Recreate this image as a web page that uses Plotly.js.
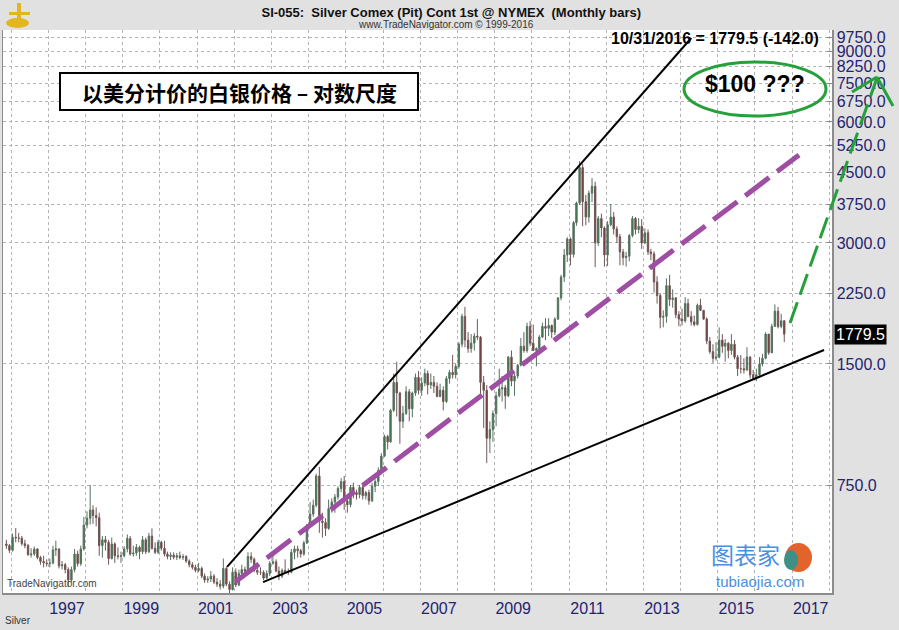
<!DOCTYPE html>
<html>
<head>
<meta charset="utf-8">
<script src="https://cdn.plot.ly/plotly-3.0.1.min.js"></script>
<style>html,body{margin:0;padding:0;background:#e1e1e1;}#chart{width:899px;height:630px;}</style>
</head>
<body>
<div id="chart"></div>
<script>
// Monthly bars, Nov 1995 .. Oct 2016 (price in US cents per ounce)
const startYear = 1995, startMonth = 11;
const open = [
  535, 530,
  516, 556, 554, 553, 536, 530, 503, 505, 520, 495, 484, 480,
  478, 480, 517, 520, 472, 475, 462, 435, 462, 505, 478, 520,
  596, 620, 650, 630, 622, 530, 548, 540, 492, 535, 500, 498,
  500, 520, 552, 505, 508, 525, 512, 548, 512, 560, 522, 510,
  540, 522, 505, 498, 502, 496, 500, 495, 498, 485, 475, 468,
  460, 465, 445, 435, 438, 445, 430, 425, 420, 465, 425, 412,
  455, 423, 452, 462, 458, 498, 490, 460, 455, 455, 440, 452,
  479, 483, 458, 445, 460, 455, 455, 510, 520, 515, 505, 538,
  596, 635, 668, 790, 610, 605, 585, 655, 680, 700, 735, 765,
  684, 670, 740, 718, 710, 740, 705, 718, 685, 745, 765, 815,
  885, 990, 960, 1150, 1350, 1270, 1080, 1130, 1280, 1160, 1270, 1390,
  1290, 1345, 1420, 1330, 1350, 1320, 1245, 1290, 1210, 1380, 1430, 1410,
  1480, 1680, 1970, 1720, 1640, 1690, 1760, 1750, 1350, 1290, 980, 1030,
  1130, 1250, 1300, 1310, 1250, 1560, 1360, 1400, 1490, 1660, 1620, 1860,
  1690, 1620, 1640, 1750, 1860, 1840, 1870, 1800, 1940, 2190, 2470, 2800,
  3070, 2810, 3370, 3770, 4620, 3800, 3480, 3990, 4150, 3000, 3450, 3270,
  2800, 3330, 3480, 3250, 3110, 2850, 2760, 2780, 3130, 3450, 3240, 3300,
  3000, 3180, 2850, 2820, 2400, 2220, 1960, 1970, 2350, 2170, 2190, 1990,
  1940, 1920, 2120, 1970, 1910, 1880, 2100, 2040, 1940, 1710, 1610, 1550,
  1560, 1720, 1660, 1690, 1620, 1680, 1560, 1460, 1460, 1450, 1560, 1410,
  1380, 1410, 1500, 1550, 1780, 1600, 1860, 2030, 1860, 1921.5
];
const high = [
  548, 535,
  568, 586, 570, 560, 548, 535, 522, 527, 522, 500, 500, 490,
  492, 530, 545, 522, 485, 480, 468, 470, 520, 515, 530, 625,
  645, 750, 668, 660, 640, 560, 560, 548, 555, 540, 525, 512,
  528, 565, 560, 530, 535, 530, 560, 555, 570, 585, 540, 548,
  545, 545, 512, 510, 510, 508, 512, 505, 502, 490, 482, 475,
  480, 470, 452, 445, 458, 450, 440, 435, 492, 470, 432, 468,
  465, 462, 475, 470, 510, 510, 495, 468, 468, 460, 460, 485,
  500, 490, 470, 465, 490, 465, 520, 530, 530, 520, 545, 600,
  680, 690, 800, 832, 640, 620, 690, 695, 712, 745, 780, 790,
  700, 750, 760, 730, 750, 755, 725, 730, 760, 775, 830, 900,
  1000, 1000, 1160, 1420, 1520, 1280, 1180, 1320, 1300, 1280, 1420, 1440,
  1390, 1460, 1445, 1420, 1400, 1350, 1340, 1320, 1400, 1450, 1580, 1500,
  1700, 2000, 2080, 1800, 1780, 1790, 1940, 1760, 1400, 1330, 1080, 1150,
  1280, 1460, 1400, 1330, 1570, 1620, 1420, 1500, 1740, 1800, 1900, 1920,
  1880, 1650, 1770, 1900, 1950, 1950, 1880, 1960, 2200, 2500, 2900, 3100,
  3100, 3400, 3800, 4790, 4720, 3950, 4050, 4350, 4260, 3500, 3550, 3300,
  3400, 3750, 3580, 3300, 3160, 2900, 2850, 3160, 3500, 3480, 3460, 3440,
  3260, 3240, 2900, 2860, 2480, 2250, 2040, 2450, 2500, 2300, 2200, 2030,
  2060, 2200, 2180, 2030, 1980, 2120, 2180, 2040, 1960, 1750, 1680, 1700,
  1850, 1780, 1730, 1700, 1780, 1720, 1580, 1580, 1550, 1650, 1570, 1450,
  1460, 1560, 1590, 1800, 1780, 1890, 2110, 2080, 2000, 1930
];
const low = [
  520, 508,
  512, 540, 540, 530, 522, 500, 495, 500, 490, 475, 468, 470,
  468, 476, 500, 465, 462, 452, 418, 430, 455, 470, 472, 515,
  585, 598, 600, 592, 500, 495, 515, 475, 490, 480, 490, 480,
  495, 510, 500, 498, 500, 490, 505, 505, 508, 518, 505, 505,
  515, 498, 490, 488, 490, 488, 490, 488, 480, 468, 462, 455,
  455, 440, 428, 428, 430, 425, 418, 412, 415, 420, 403, 410,
  418, 420, 448, 450, 455, 480, 455, 448, 448, 435, 438, 445,
  475, 455, 435, 440, 455, 448, 452, 490, 495, 495, 500, 535,
  590, 625, 660, 570, 555, 560, 580, 640, 640, 690, 720, 650,
  640, 660, 695, 690, 695, 690, 690, 670, 680, 720, 745, 800,
  880, 920, 955, 1140, 1110, 950, 1040, 1120, 1080, 1105, 1250, 1260,
  1250, 1320, 1260, 1300, 1270, 1240, 1240, 1150, 1200, 1340, 1380, 1380,
  1460, 1650, 1650, 1600, 1600, 1620, 1720, 1240, 1040, 850, 900, 960,
  1050, 1240, 1210, 1160, 1240, 1320, 1250, 1380, 1480, 1600, 1600, 1660,
  1620, 1480, 1610, 1740, 1720, 1760, 1740, 1770, 1930, 2160, 2400, 2690,
  2640, 2760, 3310, 3730, 3300, 3320, 3370, 3790, 2610, 2950, 3100, 2620,
  2630, 3300, 3150, 3000, 2640, 2640, 2620, 2700, 3100, 3150, 3170, 2900,
  2980, 2800, 2720, 2260, 2120, 1840, 1850, 1900, 2090, 2070, 1950, 1860,
  1870, 1900, 1960, 1870, 1860, 1870, 2030, 1930, 1680, 1590, 1510, 1530,
  1550, 1600, 1520, 1550, 1580, 1540, 1400, 1420, 1420, 1440, 1380, 1370,
  1360, 1400, 1480, 1540, 1580, 1600, 1860, 1840, 1840, 1700
];
const close = [
  530, 516,
  556, 554, 553, 536, 530, 503, 505, 520, 495, 484, 480, 478,
  480, 517, 520, 472, 475, 462, 435, 462, 505, 478, 520, 596,
  620, 650, 630, 622, 530, 548, 540, 492, 535, 500, 498, 500,
  520, 552, 505, 508, 525, 512, 548, 512, 560, 522, 510, 540,
  522, 505, 498, 502, 496, 500, 495, 498, 485, 475, 468, 460,
  465, 445, 435, 438, 445, 430, 425, 420, 465, 425, 412, 455,
  423, 452, 462, 458, 498, 490, 460, 455, 455, 440, 452, 479,
  483, 458, 445, 460, 455, 455, 510, 520, 515, 505, 538, 596,
  635, 668, 790, 610, 605, 585, 655, 680, 700, 735, 765, 684,
  670, 740, 718, 710, 740, 705, 718, 685, 745, 765, 815, 885,
  990, 960, 1150, 1350, 1270, 1080, 1130, 1280, 1160, 1270, 1390, 1290,
  1345, 1420, 1330, 1350, 1320, 1245, 1290, 1210, 1380, 1430, 1410, 1480,
  1680, 1970, 1720, 1640, 1690, 1760, 1750, 1350, 1290, 980, 1030, 1130,
  1250, 1300, 1310, 1250, 1560, 1360, 1400, 1490, 1660, 1620, 1860, 1690,
  1620, 1640, 1750, 1860, 1840, 1870, 1800, 1940, 2190, 2470, 2800, 3070,
  2810, 3370, 3770, 4620, 3800, 3480, 3990, 4150, 3000, 3450, 3270, 2800,
  3330, 3480, 3250, 3110, 2850, 2760, 2780, 3130, 3450, 3240, 3300, 3000,
  3180, 2850, 2820, 2400, 2220, 1960, 1970, 2350, 2170, 2190, 1990, 1940,
  1920, 2120, 1970, 1910, 1880, 2100, 2040, 1940, 1710, 1610, 1550, 1560,
  1720, 1660, 1690, 1620, 1680, 1560, 1460, 1460, 1450, 1560, 1410, 1380,
  1410, 1500, 1550, 1780, 1600, 1860, 2030, 1860, 1921.5, 1779.5
];
// axis labels
const yearLabels = ['1997','1999','2001','2003','2005','2007','2009','2011','2013','2015','2017'];
const priceTicks = [750, 1500, 2250, 3000, 3750, 4500, 5250, 6000, 6750, 7500, 8250, 9000, 9750];
const lastDate = '10/31/2016', lastPrice = 1779.5, lastChange = -142.0;
// analyst trend lines: [date, price] endpoints
const upperLine = { x: ['2001-10-22', '2014-04-16'], y: [469, 9707] };
const lowerLine = { x: ['2002-10-10', '2017-11-10'], y: [430, 1625] };
const midLine   = { x: ['2002-01-08', '2017-03-09'], y: [430, 4966] };

// month dates
const dates = [];
for (let i = 0; i < close.length; i++) {
  const m = startMonth - 1 + i;
  const y = startYear + Math.floor(m / 12), mm = (m % 12) + 1;
  dates.push(y + '-' + String(mm).padStart(2, '0') + '-15');
}

const FONT = 'Liberation Sans, Arial, sans-serif';
const NAVY = '#24246e';

const traces = [
  {
    type: 'candlestick', x: dates, open: open, high: high, low: low, close: close,
    increasing: { line: { color: '#587060', width: 1 }, fillcolor: '#2f7f40' },
    decreasing: { line: { color: '#705858', width: 1 }, fillcolor: '#7d2a2a' },
    whiskerwidth: 0, hoverinfo: 'skip', showlegend: false
  },
  { type: 'scatter', mode: 'lines', x: upperLine.x, y: upperLine.y,
    line: { color: '#000', width: 2 }, hoverinfo: 'skip', showlegend: false },
  { type: 'scatter', mode: 'lines', x: lowerLine.x, y: lowerLine.y,
    line: { color: '#000', width: 2 }, hoverinfo: 'skip', showlegend: false },
  { type: 'scatter', mode: 'lines', x: midLine.x, y: midLine.y,
    line: { color: '#9e4ea3', width: 5, dash: '30px,10px' }, hoverinfo: 'skip', showlegend: false }
];

// helper: pixel -> paper for the fixed 899x630 frame (plot x 3..832, y 30..593)
const px = x => (x - 3) / 829, py = y => (593 - y) / 563;
const GOLD = '#e3b51e';

const layout = {
  width: 899, height: 630,
  margin: { l: 3, r: 67, t: 30, b: 37 },
  paper_bgcolor: '#e1e1e1', plot_bgcolor: '#ffffff',
  showlegend: false, hovermode: false,
  font: { family: FONT },
  title: {
    text: '<b>SI-055:  Silver Comex (Pit) Cont 1st @ NYMEX  (Monthly bars)</b>',
    font: { family: FONT, size: 13, color: '#111' },
    x: 0.502, xref: 'container', xanchor: 'center',
    y: 1 - 12 / 630, yref: 'container', yanchor: 'middle'
  },
  xaxis: {
    type: 'date',
    range: ['1995-10-13', '2018-01-27'],
    rangeslider: { visible: false },
    tickmode: 'array',
    tickvals: yearLabels.map(y => y + '-07-02'),
    ticktext: yearLabels,
    ticks: '', showgrid: false, zeroline: false,
    tickfont: { family: FONT, size: 16, color: NAVY },
    showline: true, linecolor: '#8c8c8c', linewidth: 1.5,
    minor: { tickmode: 'linear', tick0: '1996-01-01', dtick: 'M12', showgrid: true,
             gridcolor: '#b4b4b4', griddash: 'dot', gridwidth: 1, ticks: '' },
    fixedrange: true
  },
  yaxis: {
    type: 'log',
    range: [2.6064, 4.0069],
    side: 'right',
    tickmode: 'array',
    tickvals: priceTicks,
    ticktext: priceTicks.map(v => v.toFixed(1)),
    tickfont: { family: FONT, size: 16, color: NAVY },
    ticks: 'inside', ticklen: 5, tickcolor: '#888',
    showgrid: true, gridcolor: '#b4b4b4', griddash: 'dot', gridwidth: 1,
    showline: true, linecolor: '#8c8c8c', linewidth: 1.5, mirror: true,
    zeroline: false, fixedrange: true
  },
  shapes: [
    // caption box
    { type: 'rect', xref: 'paper', yref: 'paper', x0: px(60), x1: px(418), y0: py(110), y1: py(73),
      line: { color: '#000', width: 2 }, fillcolor: '#ffffff' },
    // green ellipse
    { type: 'circle', xref: 'paper', yref: 'paper', x0: px(684), x1: px(826), y0: py(116), y1: py(62),
      line: { color: '#25a03a', width: 3 } },
    // green dashed projection arrow
    { type: 'line', xref: 'paper', yref: 'paper', x0: px(790), y0: py(323), x1: px(877), y1: py(78),
      line: { color: '#25a03a', width: 3, dash: '22px,8px' } },
    { type: 'line', xref: 'paper', yref: 'paper', x0: px(852), y0: py(92), x1: px(877), y1: py(77),
      line: { color: '#25a03a', width: 3 } },
    { type: 'line', xref: 'paper', yref: 'paper', x0: px(877), y0: py(77), x1: px(893), y1: py(106),
      line: { color: '#25a03a', width: 3 } },
    // watermark logo
    { type: 'circle', xref: 'paper', yref: 'paper', x0: px(785), x1: px(812), y0: py(572), y1: py(543),
      line: { width: 0 }, fillcolor: '#e2632c' },
    { type: 'circle', xref: 'paper', yref: 'paper', x0: px(784), x1: px(798), y0: py(570), y1: py(550),
      line: { width: 0 }, fillcolor: '#3e8f86' },
    // top-left gold emblem
    { type: 'circle', xref: 'paper', yref: 'paper', x0: px(6), x1: px(29), y0: py(28), y1: py(18),
      line: { width: 0 }, fillcolor: GOLD },
    { type: 'rect', xref: 'paper', yref: 'paper', x0: px(9), x1: px(30), y0: py(15), y1: py(12),
      line: { width: 0 }, fillcolor: GOLD },
    { type: 'rect', xref: 'paper', yref: 'paper', x0: px(17), x1: px(21), y0: py(20), y1: py(3),
      line: { width: 0 }, fillcolor: GOLD }
  ],
  annotations: [
    { xref: 'paper', yref: 'paper', x: px(446), y: py(25), text: 'www.TradeNavigator.com © 1999-2016',
      showarrow: false, font: { family: FONT, size: 10, color: '#333' }, xanchor: 'center', yanchor: 'middle' },
    { xref: 'paper', yref: 'paper', x: px(821), y: py(38),
      text: '<b>' + lastDate + ' = ' + lastPrice.toFixed(1) + ' (' + lastChange.toFixed(1) + ')</b>',
      showarrow: false, font: { family: FONT, size: 16, color: '#000' }, xanchor: 'right', yanchor: 'middle' },
    { xref: 'paper', yref: 'paper', x: px(239), y: py(92), text: '<b>以美分计价的白银价格 – 对数尺度</b>',
      showarrow: false, font: { family: 'Noto Sans CJK SC, sans-serif', size: 21, color: '#000' },
      xanchor: 'center', yanchor: 'middle' },
    { xref: 'paper', yref: 'paper', x: px(755), y: py(84), text: '<b>$100 ???</b>',
      showarrow: false, font: { family: FONT, size: 23, color: '#000' }, xanchor: 'center', yanchor: 'middle' },
    { xref: 'paper', yref: 'y', x: px(834), y: Math.log10(lastPrice), text: lastPrice.toFixed(1),
      showarrow: false, font: { family: FONT, size: 16, color: '#fff' }, bgcolor: '#000',
      xanchor: 'left', yanchor: 'middle', borderpad: 1 },
    { xref: 'paper', yref: 'paper', x: px(5), y: py(583), text: 'TradeNavigator.com',
      showarrow: false, font: { family: FONT, size: 10, color: '#444' }, xanchor: 'left', yanchor: 'middle' },
    { xref: 'paper', yref: 'paper', x: px(3), y: py(621), text: 'Silver',
      showarrow: false, font: { family: FONT, size: 10, color: '#333' }, xanchor: 'left', yanchor: 'middle' },
    { xref: 'paper', yref: 'paper', x: px(745), y: py(554), text: '图表家',
      showarrow: false, font: { family: 'Noto Sans CJK SC, sans-serif', size: 23, color: '#4a90e2' },
      xanchor: 'center', yanchor: 'middle' },
    { xref: 'paper', yref: 'paper', x: px(760), y: py(581), text: 'tubiaojia.com',
      showarrow: false, font: { family: FONT, size: 15, color: '#4a90e2' }, xanchor: 'center', yanchor: 'middle' }
  ]
};

Plotly.newPlot('chart', traces, layout, { displayModeBar: false, staticPlot: true });
</script>
</body>
</html>
